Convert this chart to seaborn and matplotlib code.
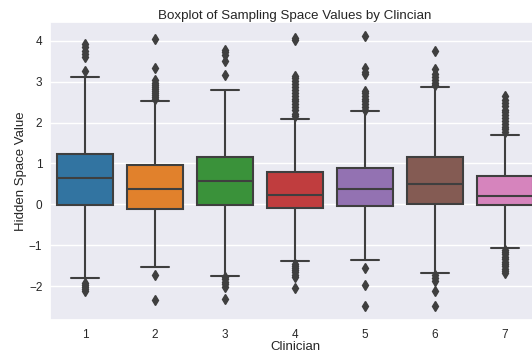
import numpy as np
import pandas as pd
import matplotlib
matplotlib.use("Agg")
import matplotlib.pyplot as plt
import seaborn as sns

# ============================================================
# Values (one entry per clinician)
# ============================================================
clinicians = ["1", "2", "3", "4", "5", "6", "7"]
q1 = [-0.02, -0.11, -0.01, -0.09, -0.03, 0.01, -0.02]
median = [0.64, 0.37, 0.56, 0.23, 0.37, 0.50, 0.21]
q3 = [1.24, 0.96, 1.16, 0.80, 0.90, 1.15, 0.69]
whisker_low = [-1.80, -1.53, -1.76, -1.38, -1.37, -1.66, -1.08]
whisker_high = [3.11, 2.53, 2.79, 2.09, 2.28, 2.80, 1.69]
outliers_low = [
    [-1.93, -1.98, -2.03, -2.08, -2.12],
    [-1.74, -2.35],
    [-1.78, -1.84, -1.90, -1.96, -2.03, -2.32],
    [-1.45, -1.50, -1.55, -1.60, -1.66, -1.72, -1.77, -2.05],
    [-1.55, -1.97, -2.48],
    [-1.69, -1.74, -1.80, -1.87, -2.12, -2.50],
    [-1.12, -1.17, -1.22, -1.28, -1.34, -1.40, -1.46, -1.52, -1.58, -1.64, -1.69],
]
outliers_high = [
    [3.26, 3.61, 3.68, 3.76, 3.84, 3.92],
    [2.58, 2.63, 2.68, 2.73, 2.78, 2.83, 2.88, 2.93, 2.98, 3.03, 3.33, 4.04],
    [3.16, 3.50, 3.66, 3.72, 3.77],
    [2.16, 2.22, 2.30, 2.38, 2.45, 2.52, 2.58, 2.65, 2.72, 2.80, 2.88, 2.95,
     3.02, 3.08, 3.15, 4.03, 4.08],
    [2.32, 2.38, 2.45, 2.52, 2.58, 2.65, 2.72, 2.78, 3.18, 3.25, 3.33, 4.13],
    [2.86, 2.92, 2.98, 3.05, 3.12, 3.20, 3.30, 3.74],
    [1.78, 1.84, 1.90, 1.97, 2.04, 2.11, 2.18, 2.25, 2.32, 2.40, 2.48, 2.56,
     2.65],
]

# Build a sample per clinician that reproduces those quartiles/whiskers
rows = []
rep = 100
for i, c in enumerate(clinicians):
    vals = (outliers_low[i] + [whisker_low[i]] + [q1[i]] * rep + [median[i]] * rep
            + [q3[i]] * rep + [whisker_high[i]] + outliers_high[i])
    for v in vals:
        rows.append({"Clinician": c, "Hidden Space Value": v})
df = pd.DataFrame(rows)

# ============================================================
# Plot
# ============================================================
sns.set_theme(style="darkgrid")
plt.rcParams["font.family"] = ["Liberation Sans", "DejaVu Sans"]

fig = plt.figure(figsize=(5.32, 3.58), dpi=100)
ax = fig.add_axes([50 / 532, 38 / 358, 490 / 532, 298 / 358])

line_col = "#3f3f3f"
sns.boxplot(data=df, x="Clinician", y="Hidden Space Value", hue="Clinician",
            order=clinicians, palette="tab10", legend=False, ax=ax,
            linecolor=line_col, linewidth=1.5, fliersize=5,
            flierprops=dict(marker="d", markerfacecolor=line_col,
                            markeredgecolor=line_col))

ax.set_title("Boxplot of Sampling Space Values by Clincian", fontsize=9.6, pad=2)
ax.set_xlabel("Clinician", fontsize=9.5, labelpad=0)
ax.set_ylabel("Hidden Space Value", fontsize=9.5, labelpad=1)
ax.set_yticks([-2, -1, 0, 1, 2, 3, 4])
ax.tick_params(axis="x", labelsize=8.5, length=0, pad=6.5)
ax.tick_params(axis="y", labelsize=8.5, length=0, pad=5.5)

fig.savefig("out.png", dpi=100)
